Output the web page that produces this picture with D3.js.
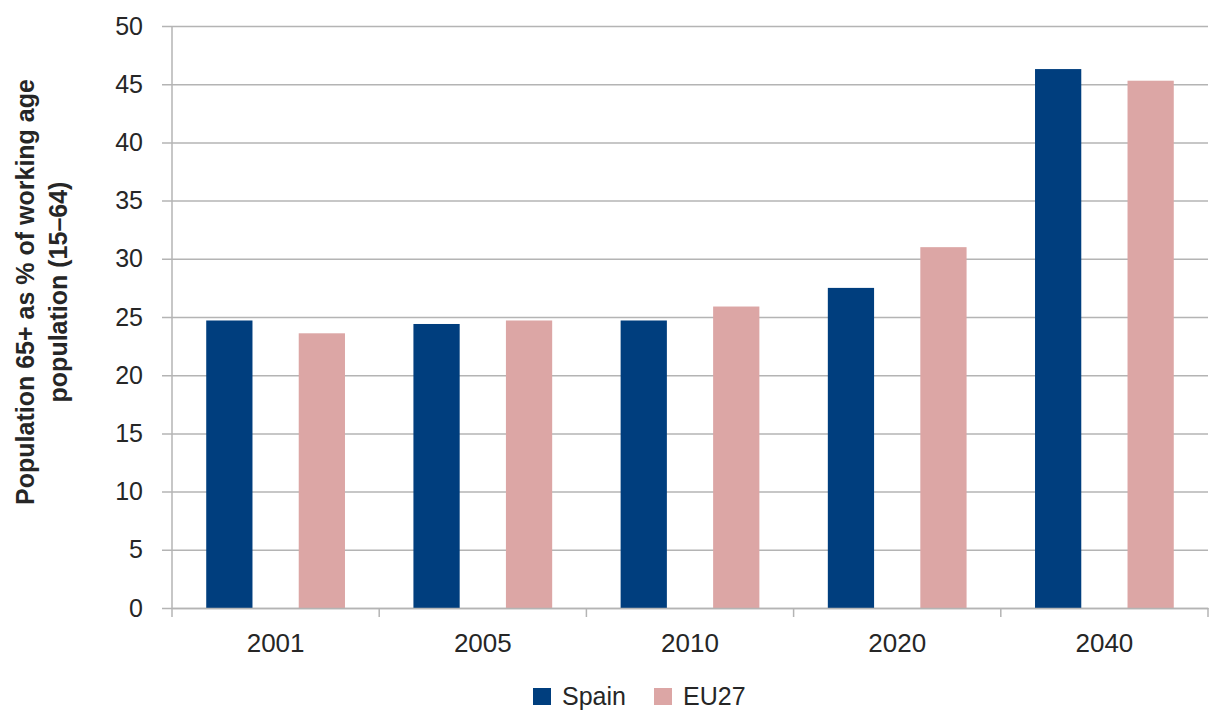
<!DOCTYPE html>
<html>
<head>
<meta charset="utf-8">
<script src="https://d3js.org/d3.v7.min.js"></script>
<style>
    body { margin: 0; background: #fff; }
    svg text { font-family: "Liberation Sans", Arial, sans-serif; fill: #262626; }
</style>
</head>
<body>
<svg width=1216 height=711></svg>
<script>
    // chart data
    var years = ["2001", "2005", "2010", "2020", "2040"];
    var seriesNames = ["Spain", "EU27"];
    var spain = [24.7, 24.4, 24.7, 27.5, 46.3];
    var eu27 = [23.6, 24.7, 25.9, 31.0, 45.3];
    var yTicks = [0, 5, 10, 15, 20, 25, 30, 35, 40, 45, 50];
    var colors = ["#003e7e", "#dca6a5"];

    var svg = d3.select("svg");
    var plotLeft = 172, plotRight = 1208, plotTop = 26, plotBottom = 608;
    var plotW = plotRight - plotLeft;

    var y = d3.scaleLinear().domain([0, 50]).range([plotBottom, plotTop]);
    var x0 = d3.scaleBand().domain(years).range([plotLeft, plotRight]).padding(0);
    var x1 = d3.scaleBand().domain(seriesNames).range([0, x0.bandwidth()])
        .paddingInner(0.5).paddingOuter(0.37);

    // gridlines + y labels
    var grid = svg.append("g")
        .attr("transform", "translate(" + (plotLeft - 10) + ",0)")
        .call(d3.axisLeft(y).tickValues(yTicks).tickSize(-(plotW + 10)).tickPadding(19));
    grid.select(".domain").remove();
    grid.selectAll("line").attr("stroke", "#b4b4b4").attr("stroke-width", 1.5);
    grid.selectAll("text").style("font-size", "25px").attr("fill", "#262626");

    // bars
    var rows = years.map(function(yr, i) {
        return { year: yr, values: [spain[i], eu27[i]] };
    });
    svg.append("g").selectAll("g")
        .data(rows)
        .enter().append("g")
        .attr("transform", function(d) { return "translate(" + x0(d.year) + ",0)"; })
        .selectAll("rect")
        .data(function(d) { return d.values.map(function(v, j) { return { s: seriesNames[j], v: v, j: j }; }); })
        .enter().append("rect")
        .attr("x", function(d) { return x1(d.s); })
        .attr("width", x1.bandwidth())
        .attr("y", function(d) { return y(d.v); })
        .attr("height", function(d) { return y(0) - y(d.v); })
        .attr("fill", function(d) { return colors[d.j]; });

    // y axis line
    svg.append("line")
        .attr("x1", plotLeft).attr("x2", plotLeft)
        .attr("y1", y(50)).attr("y2", y(0))
        .attr("stroke", "#b4b4b4").attr("stroke-width", 1.5);

    // x axis line, labels, and category boundary ticks
    var xa = svg.append("g")
        .attr("transform", "translate(0," + plotBottom + ")")
        .call(d3.axisBottom(x0).tickSize(0).tickPadding(26));
    xa.select(".domain").attr("stroke", "#b4b4b4").attr("stroke-width", 1.5);
    xa.selectAll("text").style("font-size", "26px").attr("fill", "#262626");

    var bounds = years.map(function(d) { return x0(d); }).concat([x0.range()[1]]);
    svg.append("g").selectAll("line")
        .data(bounds)
        .enter().append("line")
        .attr("x1", function(d) { return d; })
        .attr("x2", function(d) { return d; })
        .attr("y1", plotBottom)
        .attr("y2", plotBottom + 9)
        .attr("stroke", "#b4b4b4").attr("stroke-width", 1.5);

    // y axis title
    var title = svg.append("text")
        .attr("transform", "translate(34,292) rotate(-90)")
        .style("text-anchor", "middle")
        .style("font-size", "25px")
        .style("font-weight", "bold");
    title.append("tspan").attr("x", 0).attr("dy", 0).text("Population 65+ as % of working age");
    title.append("tspan").attr("x", 0).attr("dy", 33).text("population (15\u201364)");

    // legend
    var legendX = [533, 654];
    var legend = svg.append("g").selectAll("g")
        .data(seriesNames)
        .enter().append("g")
        .attr("transform", function(d, i) { return "translate(" + legendX[i] + ",688)"; });
    legend.append("rect")
        .attr("width", 18).attr("height", 17)
        .attr("fill", function(d, i) { return colors[i]; });
    legend.append("text")
        .attr("x", 29).attr("y", 8)
        .attr("dy", "0.35em")
        .style("font-size", "25px")
        .text(function(d) { return d; });
</script>
</body>
</html>
